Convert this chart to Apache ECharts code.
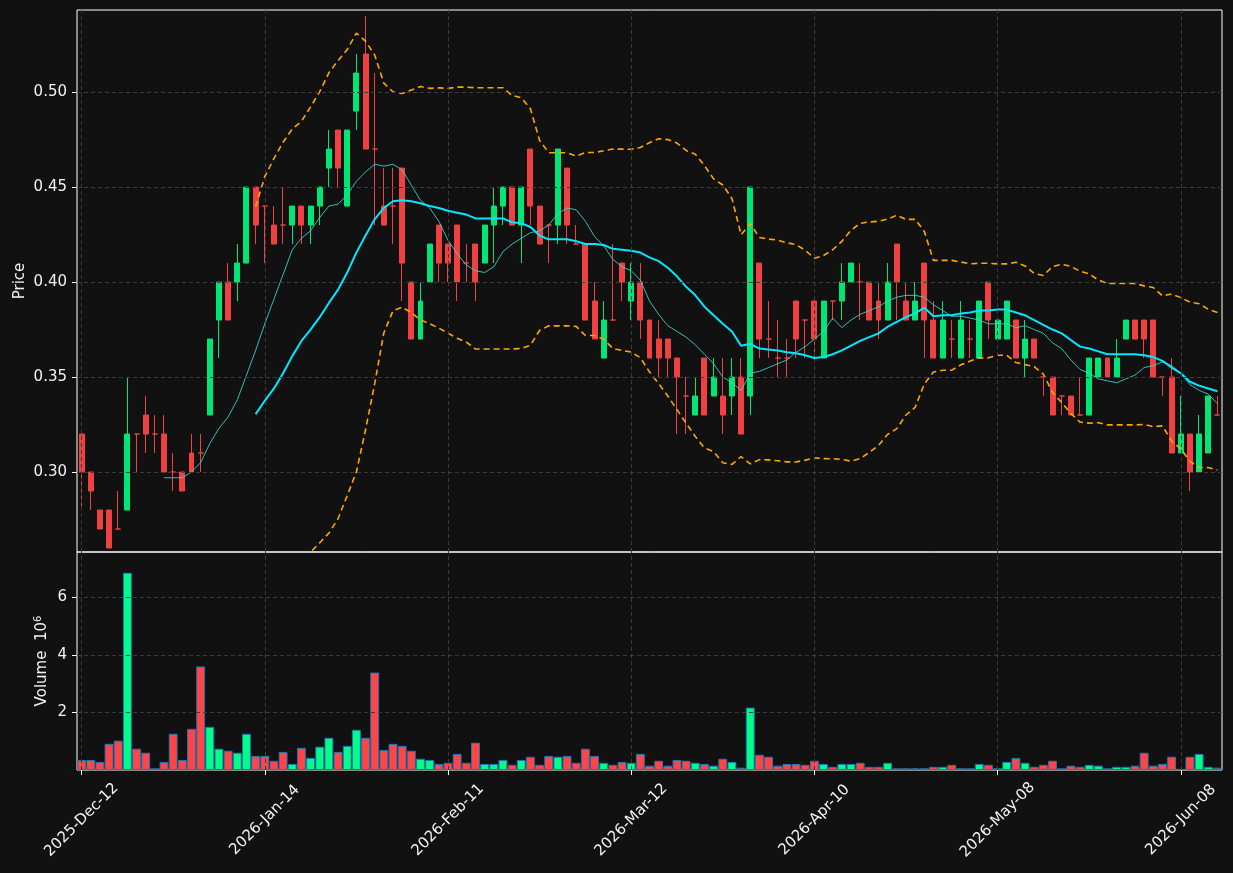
<!DOCTYPE html>
<html>
<head>
<meta charset="utf-8">
<script src="https://cdn.jsdelivr.net/npm/echarts@6/dist/echarts.min.js"></script>
<style>
  html, body { margin: 0; padding: 0; background: #111111; }
  #chart { width: 1233px; height: 873px; }
</style>
</head>
<body>
<div id="chart"></div>
<script>
// ---------------- DATA ----------------
const dates = [
  '2025-Dec-12','2025-Dec-15','2025-Dec-16','2025-Dec-17','2025-Dec-18','2025-Dec-19','2025-Dec-22','2025-Dec-23','2025-Dec-24','2025-Dec-29',
  '2025-Dec-30','2025-Dec-31','2026-Jan-02','2026-Jan-05','2026-Jan-06','2026-Jan-07','2026-Jan-08','2026-Jan-09','2026-Jan-12','2026-Jan-13',
  '2026-Jan-14','2026-Jan-15','2026-Jan-16','2026-Jan-19','2026-Jan-20','2026-Jan-21','2026-Jan-22','2026-Jan-23','2026-Jan-26','2026-Jan-27',
  '2026-Jan-28','2026-Jan-29','2026-Jan-30','2026-Feb-02','2026-Feb-03','2026-Feb-04','2026-Feb-05','2026-Feb-06','2026-Feb-09','2026-Feb-10',
  '2026-Feb-11','2026-Feb-12','2026-Feb-13','2026-Feb-17','2026-Feb-18','2026-Feb-19','2026-Feb-20','2026-Feb-23','2026-Feb-24','2026-Feb-25',
  '2026-Feb-26','2026-Feb-27','2026-Mar-02','2026-Mar-03','2026-Mar-04','2026-Mar-05','2026-Mar-06','2026-Mar-09','2026-Mar-10','2026-Mar-11',
  '2026-Mar-12','2026-Mar-13','2026-Mar-16','2026-Mar-17','2026-Mar-18','2026-Mar-19','2026-Mar-20','2026-Mar-23','2026-Mar-24','2026-Mar-25',
  '2026-Mar-26','2026-Mar-27','2026-Mar-30','2026-Mar-31','2026-Apr-01','2026-Apr-02','2026-Apr-06','2026-Apr-07','2026-Apr-08','2026-Apr-09',
  '2026-Apr-10','2026-Apr-13','2026-Apr-14','2026-Apr-15','2026-Apr-16','2026-Apr-17','2026-Apr-20','2026-Apr-21','2026-Apr-22','2026-Apr-23',
  '2026-Apr-24','2026-Apr-27','2026-Apr-28','2026-Apr-29','2026-Apr-30','2026-May-01','2026-May-04','2026-May-05','2026-May-06','2026-May-07',
  '2026-May-08','2026-May-11','2026-May-12','2026-May-13','2026-May-14','2026-May-15','2026-May-18','2026-May-19','2026-May-20','2026-May-21',
  '2026-May-22','2026-May-26','2026-May-27','2026-May-28','2026-May-29','2026-Jun-01','2026-Jun-02','2026-Jun-03','2026-Jun-04','2026-Jun-05',
  '2026-Jun-08','2026-Jun-09','2026-Jun-10','2026-Jun-11','2026-Jun-12'
];

const opens = [
  .32,.30,.28,.28,.27,.28,.32,.33,.32,.32, .30,.30,.31,.31,.33,.38,.40,.40,.41,.45,
  .44,.43,.43,.43,.44,.43,.44,.46,.48,.44, .49,.52,.47,.44,.44,.46,.40,.37,.40,.43,
  .42,.43,.41,.42,.41,.43,.44,.45,.43,.47, .44,.43,.43,.46,.42,.42,.39,.36,.38,.41,
  .39,.40,.38,.37,.37,.36,.34,.33,.36,.34, .34,.34,.35,.34,.41,.37,.36,.36,.39,.38,
  .39,.36,.39,.39,.40,.40,.40,.39,.38,.42, .39,.38,.41,.38,.36,.37,.36,.37,.36,.40,
  .37,.37,.38,.36,.37,.35,.35,.34,.34,.33, .33,.35,.36,.35,.37,.38,.38,.38,.35,.35,
  .31,.32,.30,.31,.33
];
const highs = [
  .32,.30,.28,.28,.29,.35,.32,.34,.33,.33, .31,.30,.32,.32,.37,.40,.41,.42,.45,.45,
  .44,.44,.45,.44,.44,.44,.45,.48,.48,.48, .52,.54,.51,.46,.46,.46,.40,.40,.42,.43,
  .42,.43,.42,.42,.43,.45,.45,.45,.45,.47, .44,.43,.47,.46,.43,.42,.40,.39,.42,.41,
  .41,.41,.38,.38,.37,.36,.35,.35,.36,.36, .36,.36,.36,.45,.41,.39,.38,.37,.39,.38,
  .39,.39,.39,.41,.41,.41,.40,.40,.41,.42, .40,.40,.41,.39,.39,.38,.39,.38,.39,.40,
  .38,.39,.38,.38,.37,.35,.35,.34,.34,.35, .36,.36,.36,.37,.38,.38,.38,.38,.35,.36,
  .34,.32,.33,.34,.34
];
const lows = [
  .28,.28,.27,.26,.27,.28,.30,.31,.31,.30, .29,.29,.30,.30,.33,.36,.38,.39,.41,.42,
  .41,.42,.42,.42,.42,.42,.43,.45,.45,.44, .48,.47,.43,.43,.42,.39,.37,.37,.40,.40,
  .40,.39,.40,.39,.41,.41,.43,.43,.41,.43, .42,.41,.42,.42,.42,.38,.37,.36,.38,.39,
  .38,.37,.36,.35,.35,.32,.32,.33,.33,.34, .32,.33,.32,.33,.36,.36,.35,.35,.36,.36,
  .36,.36,.38,.38,.40,.38,.38,.37,.38,.38, .38,.38,.36,.36,.36,.36,.36,.36,.36,.37,
  .37,.37,.36,.35,.36,.34,.33,.33,.33,.33, .33,.35,.35,.35,.37,.37,.36,.35,.34,.31,
  .31,.29,.30,.31,.33
];
const closes = [
  .30,.29,.27,.26,.27,.32,.32,.32,.32,.30, .30,.29,.30,.31,.37,.40,.38,.41,.45,.43,
  .44,.42,.43,.44,.43,.44,.45,.47,.46,.48, .51,.47,.47,.43,.44,.41,.37,.39,.42,.41,
  .41,.40,.41,.40,.43,.44,.45,.43,.45,.44, .42,.43,.47,.43,.42,.38,.37,.38,.38,.40,
  .40,.38,.36,.36,.36,.35,.34,.34,.33,.35, .33,.35,.32,.45,.37,.37,.36,.36,.37,.38,
  .37,.39,.39,.40,.41,.40,.38,.38,.40,.40, .38,.39,.38,.36,.38,.37,.38,.37,.39,.38,
  .38,.39,.36,.37,.36,.35,.33,.34,.33,.33, .36,.36,.35,.36,.38,.37,.37,.35,.35,.31,
  .32,.30,.32,.34,.33
];
// volume in millions (axis shows 10^6)
const volumes = [
  .35,.35,.28,.91,1.02,6.86,.74,.60,.06,.28, 1.26,.35,1.43,3.60,1.50,.74,.67,.60,1.26,.49,
  .49,.32,.63,.21,.77,.42,.81,1.12,.63,.84, 1.40,1.12,3.39,.70,.91,.84,.67,.39,.35,.21,
  .25,.56,.25,.95,.21,.21,.35,.18,.35,.46, .18,.49,.46,.49,.25,.74,.49,.25,.18,.28,
  .25,.56,.15,.32,.15,.35,.32,.25,.21,.15, .39,.28,.08,2.17,.53,.46,.15,.21,.21,.18,
  .32,.21,.11,.21,.21,.25,.11,.11,.25,.06, .06,.06,.06,.11,.11,.18,.06,.06,.21,.18,
  .06,.28,.42,.25,.11,.18,.32,.06,.15,.11, .18,.15,.06,.11,.11,.15,.60,.15,.21,.46,
  .04,.46,.56,.11,.08
];

const priceTicks = [0.30, 0.35, 0.40, 0.45, 0.50];
const volumeTicks = [2, 4, 6];
const labelEvery = 20;

// ---------------- INDICATORS (derived from closes) ----------------
function movingAverage(values, n) {
  return values.map((_, i) => {
    if (i < n - 1) return '-';
    let s = 0;
    for (let k = i - n + 1; k <= i; k++) s += values[k];
    return s / n;
  });
}
function bollinger(values, n, mult) {
  const mid = movingAverage(values, n);
  const up = [], lo = [];
  values.forEach((_, i) => {
    if (i < n - 1) { up.push('-'); lo.push('-'); return; }
    let v = 0;
    for (let k = i - n + 1; k <= i; k++) v += (values[k] - mid[i]) ** 2;
    const sd = Math.sqrt(v / n);
    up.push(mid[i] + mult * sd);
    lo.push(mid[i] - mult * sd);
  });
  return { mid, up, lo };
}
const ma10 = movingAverage(closes, 10);
const bb = bollinger(closes, 20, 2);

// ---------------- STYLE ----------------
const UP = '#00e676', DOWN = '#ef4141';
const VUP = '#00ff88', VDOWN = '#ff4545';
const TEXT = '#f2f2f2';
const GRIDC = '#3c3c3c';
const FONT = 'DejaVu Sans';
const FS = 15;

const candleData = opens.map((o, i) => [o, closes[i], lows[i], highs[i]]);
const volData = volumes.map((v, i) => ({
  value: v,
  itemStyle: { color: closes[i] > opens[i] ? VUP : VDOWN }
}));

const vLines = dates.filter((_, i) => i % labelEvery === 0).map(d => ({ xAxis: d }));
const gridLineStyle = { color: GRIDC, type: [4, 3], width: 1 };
function gridMarks(yVals) {
  return {
    silent: true, symbol: ['none', 'none'], animation: false,
    label: { show: false },
    lineStyle: gridLineStyle,
    emphasis: { disabled: true },
    data: yVals.map(v => ({ yAxis: v })).concat(vLines)
  };
}

const chart = echarts.init(document.getElementById('chart'), null, { renderer: 'canvas' });
chart.setOption({
  backgroundColor: '#111111',
  animation: false,
  textStyle: { fontFamily: FONT },
  grid: [
    { left: 77, right: 11, top: 10, height: 542, show: true, borderColor: '#ffffff', borderWidth: 1, backgroundColor: 'transparent' },
    { left: 77, right: 11, top: 552, height: 218, show: true, borderColor: '#ffffff', borderWidth: 1, backgroundColor: 'transparent' }
  ],
  xAxis: [
    { type: 'category', data: dates, gridIndex: 0,
      axisLine: { show: false }, axisTick: { show: false }, axisLabel: { show: false }, splitLine: { show: false } },
    { type: 'category', data: dates, gridIndex: 1,
      axisLine: { show: false },
      axisTick: { show: true, interval: labelEvery - 1, alignWithLabel: true, length: 5, lineStyle: { color: '#ffffff' } },
      axisLabel: { interval: labelEvery - 1, rotate: 45, align: 'center', verticalAlign: 'middle', margin: 50,
                   color: TEXT, fontSize: FS, fontFamily: FONT },
      splitLine: { show: false } }
  ],
  yAxis: [
    { type: 'value', gridIndex: 0, min: 0.2579, max: 0.5432, scale: true,
      name: 'Price', nameLocation: 'middle', nameGap: 49, nameMoveOverlap: false,
      nameTextStyle: { color: TEXT, fontSize: FS, fontFamily: FONT },
      axisLine: { show: false },
      axisTick: { show: true, length: 5, customValues: priceTicks, lineStyle: { color: '#ffffff' } },
      axisLabel: { customValues: priceTicks, formatter: v => v.toFixed(2), color: TEXT, fontSize: FS, fontFamily: FONT, margin: 10 },
      splitLine: { show: false } },
    { type: 'value', gridIndex: 1, min: 0, max: 7.58,
      name: 'Volume  10{sup|6}', nameLocation: 'middle', nameGap: 26, nameMoveOverlap: false,
      nameTextStyle: { color: TEXT, fontSize: FS, fontFamily: FONT,
        rich: { sup: { fontSize: 10, color: TEXT, fontFamily: FONT, verticalAlign: 'top', padding: [0, 0, 8, 0] } } },
      axisLine: { show: false },
      axisTick: { show: true, length: 5, customValues: volumeTicks, lineStyle: { color: '#ffffff' } },
      axisLabel: { customValues: volumeTicks, formatter: v => String(v), color: TEXT, fontSize: FS, fontFamily: FONT, margin: 10 },
      splitLine: { show: false } }
  ],
  series: [
    { name: 'grid-price', type: 'line', xAxisIndex: 0, yAxisIndex: 0, data: [], z: 0, silent: true,
      markLine: gridMarks(priceTicks) },
    { name: 'grid-volume', type: 'line', xAxisIndex: 1, yAxisIndex: 1, data: [], z: 0, silent: true,
      markLine: gridMarks(volumeTicks) },
    { name: 'Price', type: 'candlestick', xAxisIndex: 0, yAxisIndex: 0, data: candleData, z: 2,
      barWidth: '60%',
      itemStyle: { color: UP, color0: DOWN, borderColor: UP, borderColor0: DOWN, borderColorDoji: DOWN, borderWidth: 1 } },
    { name: 'MA10', type: 'line', xAxisIndex: 0, yAxisIndex: 0, data: ma10, showSymbol: false, symbol: 'none', z: 3,
      lineStyle: { color: '#40d8d0', width: 1, opacity: 0.85 } },
    { name: 'MA20', type: 'line', xAxisIndex: 0, yAxisIndex: 0, data: bb.mid, showSymbol: false, symbol: 'none', z: 4,
      lineStyle: { color: '#00e8ff', width: 2 } },
    { name: 'BB Upper', type: 'line', xAxisIndex: 0, yAxisIndex: 0, data: bb.up, showSymbol: false, symbol: 'none', z: 4,
      lineStyle: { color: '#ffa500', width: 1.6, type: [6, 4] } },
    { name: 'BB Lower', type: 'line', xAxisIndex: 0, yAxisIndex: 0, data: bb.lo, showSymbol: false, symbol: 'none', z: 4,
      lineStyle: { color: '#ffa500', width: 1.6, type: [6, 4] } },
    { name: 'Volume', type: 'bar', xAxisIndex: 1, yAxisIndex: 1, data: volData, z: 2,
      barWidth: '97%',
      itemStyle: { borderColor: '#1f77b4', borderWidth: 1 } }
  ]
});
</script>
</body>
</html>
